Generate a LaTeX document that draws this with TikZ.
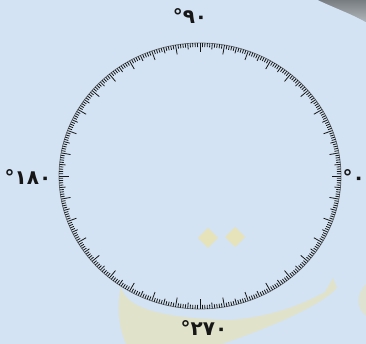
\documentclass[tikz,border=0pt]{standalone}
\usepackage{fontspec}
\newfontfamily\arabicfont[Script=Arabic]{DejaVu Sans}
\usetikzlibrary{positioning}
\definecolor{bg}{HTML}{D3E3F3}
\definecolor{ink}{HTML}{161616}
\definecolor{rim}{HTML}{6A6F76}
\definecolor{wmark}{HTML}{E6E2BA}
\definecolor{shade}{HTML}{8A939C}
\tikzset{
  deg/.style={font=\arabicfont\bfseries\fontsize{20}{22}\selectfont,text=ink,inner sep=0pt},
  ticks/.style={draw=ink,line width=0.8pt},
  ring/.style={draw=rim,line width=0.7pt},
  wmk/.style={fill=wmark,draw=none},
}

\begin{document}
\begin{tikzpicture}[x=1pt,y=1pt]
\useasboundingbox (0,0) rectangle (366,344);
\fill[bg] (0,0) rectangle (366,344);
% faded watermark behind the dial
\fill[shade,opacity=0.45] (318,344) .. controls (335,336) and (352,330) .. (366,322) -- (366,344) -- cycle;
\fill[wmk] (198,106) -- (208,116) -- (218,106) -- (208,96) -- cycle;
\fill[wmk] (225,107) -- (235,117) -- (245,107) -- (235,97) -- cycle;
\fill[wmk,opacity=0.7] (121,57) .. controls (126,36) and (160,26) .. (230,24)
  .. controls (280,28) and (310,44) .. (325,52) -- (333,66) -- (337,56)
  .. controls (322,40) and (280,20) .. (222,0) -- (126,0) .. controls (118,18) and (117,40) .. (121,57) -- cycle;
\fill[wmk,opacity=0.6] (366,60) .. controls (356,50) and (356,36) .. (366,28) -- cycle;
\begin{scope}[shift={(200,168)}]
\draw[ring] (0,0) ellipse [x radius=141,y radius=133];
\foreach \a in {0,...,359}{
  \pgfmathsetmacro\len{ifthenelse(mod(\a,10)==0,9.5,ifthenelse(mod(\a,5)==0,6,4))}
  \draw[ticks] ({141*cos(\a)},{133*sin(\a)}) -- ({(141-\len)*cos(\a)},{(133-\len)*sin(\a)});
}
\end{scope}
\node[deg] (d90) at (190,328) {°۹۰};
\node[deg] (d180) at (28,167) {°۱۸۰};
\node[deg,anchor=east] (d0) at (365,167) {°۰};
\node[deg] (d270) at (204,16) {°۲۷۰};
\end{tikzpicture}
\end{document}
